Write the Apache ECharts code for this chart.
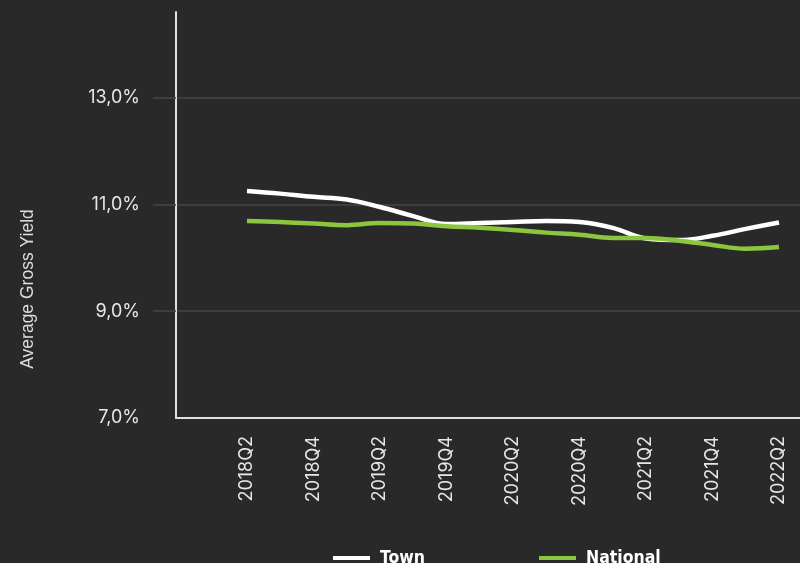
<!DOCTYPE html>
<html>
<head>
<meta charset="utf-8">
<script src="https://cdn.jsdelivr.net/npm/echarts@6/dist/echarts.min.js"></script>
<style>
html,body{margin:0;padding:0;background:#292929;}
#chart{width:800px;height:563px;}
</style>
</head>
<body>
<div id="chart"></div>
<script>
const quarters = ['2018Q2','2018Q3','2018Q4','2019Q1','2019Q2','2019Q3','2019Q4','2020Q1','2020Q2','2020Q3','2020Q4','2021Q1','2021Q2','2021Q3','2021Q4','2022Q1','2022Q2'];
const townValues = [11.25,11.20,11.14,11.09,10.95,10.78,10.63,10.65,10.67,10.69,10.67,10.56,10.36,10.33,10.41,10.54,10.66];
const nationalValues = [10.69,10.67,10.64,10.61,10.65,10.64,10.59,10.56,10.52,10.47,10.43,10.37,10.37,10.32,10.24,10.17,10.20];
const xLabelIdx = [0,2,4,6,8,10,12,14,16];
const yLabelTicks = [7,9,11,13];
const yGridTicks = [9,11,13];
const yName = 'Average Gross Yield';

const chart = echarts.init(document.getElementById('chart'));
const fmt = v => v.toFixed(1).replace('.', ',') + '%';
const pairs = arr => arr.map((v, i) => [i, v]);
chart.setOption({
  backgroundColor: '#292929',
  animation: false,
  grid: {left: 176, top: 12, right: 0, bottom: 145, containLabel: false},
  legend: {
    left: 328, top: 543, padding: 5, itemGap: 114,
    icon: 'rect', itemWidth: 37, itemHeight: 4,
    textStyle: {color: '#ffffff', fontFamily: 'DejaVu Sans Condensed', fontWeight: 'bold', fontSize: 17.5, lineHeight: 20, padding: [0,0,0,5]},
    data: ['Town', 'National']
  },
  graphic: [{
    type: 'text', x: 28, y: 289, rotation: Math.PI/2,
    style: {text: yName, fill: '#dddddd', font: '17.5px "Liberation Sans"', align: 'center', verticalAlign: 'middle'}
  }],
  xAxis: {
    type: 'value', min: -2.135, max: 16.632,
    axisLine: {show: true, onZero: false, lineStyle: {color: '#e0e0e0', width: 2}},
    axisTick: {show: false},
    splitLine: {show: false},
    axisLabel: {
      rotate: 90, margin: 18, color: '#e6e6e6', fontFamily: 'Inter', fontSize: 18,
      customValues: xLabelIdx,
      formatter: v => quarters[Math.round(v)] || ''
    }
  },
  yAxis: {
    type: 'value', min: 7, max: 14.6,
    axisLine: {show: true, onZero: false, lineStyle: {color: '#e0e0e0', width: 2}},
    axisTick: {show: true, length: 23, customValues: yGridTicks, lineStyle: {color: '#454545', width: 1.5}},
    splitLine: {show: true, lineStyle: {color: '#454545', width: 1.5}},
    axisLabel: {
      margin: 36, color: '#e6e6e6', fontFamily: 'Inter', fontSize: 18,
      customValues: yLabelTicks,
      formatter: v => fmt(v)
    }
  },
  series: [
    {name: 'Town', type: 'line', data: pairs(townValues), smooth: 0.4, showSymbol: false, symbol: 'none',
     itemStyle: {color: '#ffffff'}, lineStyle: {color: '#ffffff', width: 4.5}},
    {name: 'National', type: 'line', data: pairs(nationalValues), smooth: 0.4, showSymbol: false, symbol: 'none',
     itemStyle: {color: '#8cc63f'}, lineStyle: {color: '#8cc63f', width: 4.5}}
  ]
});
</script>
</body>
</html>
